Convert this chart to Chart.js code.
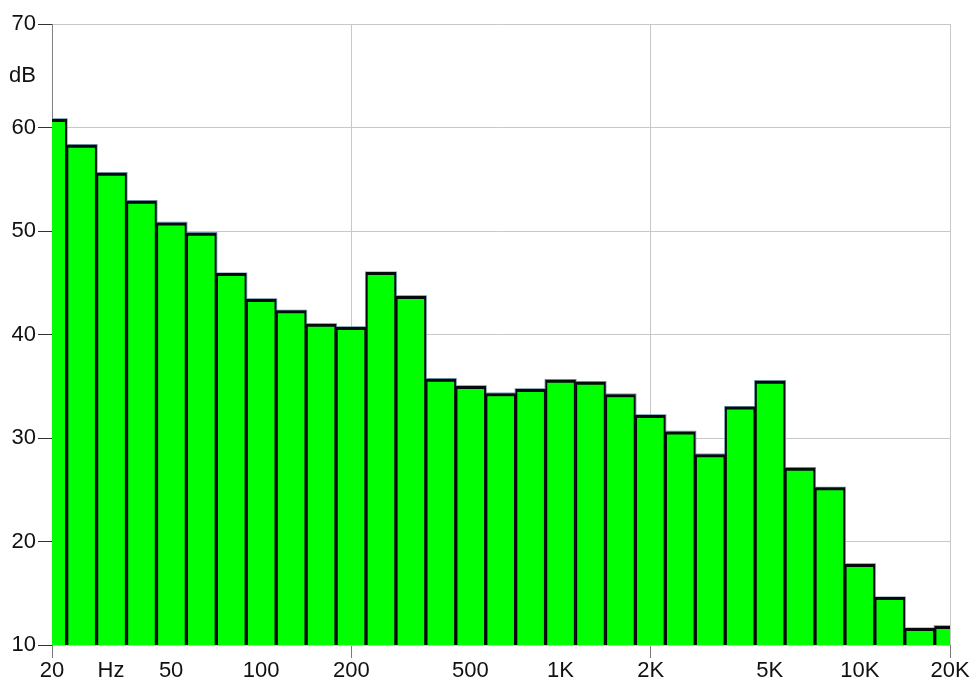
<!DOCTYPE html>
<html>
<head>
<meta charset="utf-8">
<script src="https://cdn.jsdelivr.net/npm/chart.js@4.4.1/dist/chart.umd.min.js"></script>
<style>
  html, body { margin: 0; padding: 0; background: #ffffff; }
  #wrap { width: 973px; height: 682px; position: relative; }
</style>
</head>
<body>
<div id="wrap"><canvas id="c" width="973" height="682"></canvas></div>
<script>
// 1/3-octave band centre frequencies (Hz)
const bandFreqs = [20, 25, 31.5, 40, 50, 63, 80, 100, 125, 160, 200, 250, 315, 400, 500, 630,
                   800, 1000, 1250, 1600, 2000, 2500, 3150, 4000, 5000, 6300, 8000, 10000, 12500, 16000, 20000];
// Band levels (dB)
const levelsDb = [60.8, 58.3, 55.6, 52.9, 50.8, 49.8, 45.9, 43.4, 42.3, 41.0, 40.7, 46.0, 43.7, 35.7, 35.0, 34.3,
                  34.7, 35.6, 35.4, 34.2, 32.2, 30.6, 28.4, 33.0, 35.5, 27.1, 25.2, 17.8, 14.6, 11.6, 11.8];
// X axis ticks
const xTickFreqs  = [20, 31.5, 50, 100, 200, 500, 1000, 2000, 5000, 10000, 20000];
const xTickLabels = ['20', 'Hz', '50', '100', '200', '500', '1K', '2K', '5K', '10K', '20K'];
const xGridFreqs  = [200, 2000, 20000];
const xMarkFreqs  = [20, 200, 2000, 20000];
// Y axis ticks
const yTicks = [10, 20, 30, 40, 50, 60, 65, 70];
const yUnitValue = 65;
const yUnitLabel = 'dB';

const lg = f => Math.log10(f);
const near = (a, list) => list.some(f => Math.abs(lg(f) - a) < 1e-6);
const points = bandFreqs.map((f, i) => ({ x: Math.round(lg(f) * 10) / 10, y: levelsDb[i] }));

const FONT = { family: '"Liberation Sans", Arial, sans-serif', size: 22, lineHeight: 1 };

new Chart(document.getElementById('c'), {
  type: 'bar',
  data: {
    datasets: [
      {
        data: points,
        grouped: false,
        order: 1,
        backgroundColor: '#00ff00',
        borderColor: '#050a0a',
        borderWidth: { top: 3, left: 2, right: 2, bottom: 0 },
        borderSkipped: false,
        categoryPercentage: 1,
        barPercentage: 1
      },
      {
        data: points,
        grouped: false,
        order: 2,
        backgroundColor: '#6f96ab',
        borderWidth: 0,
        inflateAmount: 1,
        categoryPercentage: 1,
        barPercentage: 1
      }
    ]
  },
  options: {
    responsive: false,
    animation: false,
    layout: { padding: { top: 24, right: 23, bottom: 0, left: 0 } },
    plugins: { legend: { display: false }, tooltip: { enabled: false }, title: { display: false } },
    scales: {
      x: {
        type: 'linear',
        offset: false,
        min: lg(20),
        max: lg(20000),
        afterBuildTicks: s => { s.ticks = xTickFreqs.map(f => ({ value: lg(f) })); },
        afterFit: s => { s.height = 37; },
        border: { display: false },
        grid: {
          offset: false,
          drawOnChartArea: true,
          color: ctx => (ctx.tick && near(ctx.tick.value, xGridFreqs)) ? '#c8c8c8' : 'rgba(0,0,0,0)',
          tickColor: ctx => (ctx.tick && near(ctx.tick.value, xMarkFreqs)) ? '#7a7a7a' : 'rgba(0,0,0,0)',
          tickLength: 13,
          lineWidth: 1
        },
        ticks: {
          autoSkip: false,
          maxRotation: 0,
          minRotation: 0,
          padding: 2,
          color: '#111111',
          font: FONT,
          callback: (v, i) => xTickLabels[i]
        }
      },
      y: {
        type: 'linear',
        min: 10,
        max: 70,
        afterBuildTicks: s => { s.ticks = yTicks.map(v => ({ value: v })); },
        afterFit: s => { s.width = 52; },
        border: { display: true, color: '#808080', width: 1 },
        grid: {
          color: ctx => (ctx.tick && ctx.tick.value === yUnitValue) ? 'rgba(0,0,0,0)' : '#c8c8c8',
          tickColor: ctx => (ctx.tick && ctx.tick.value === yUnitValue) ? 'rgba(0,0,0,0)' : '#333333',
          tickLength: 14,
          lineWidth: 1
        },
        ticks: {
          autoSkip: false,
          padding: 2,
          color: '#111111',
          font: FONT,
          callback: v => (v === yUnitValue ? yUnitLabel : String(v))
        }
      }
    }
  }
});
</script>
</body>
</html>
